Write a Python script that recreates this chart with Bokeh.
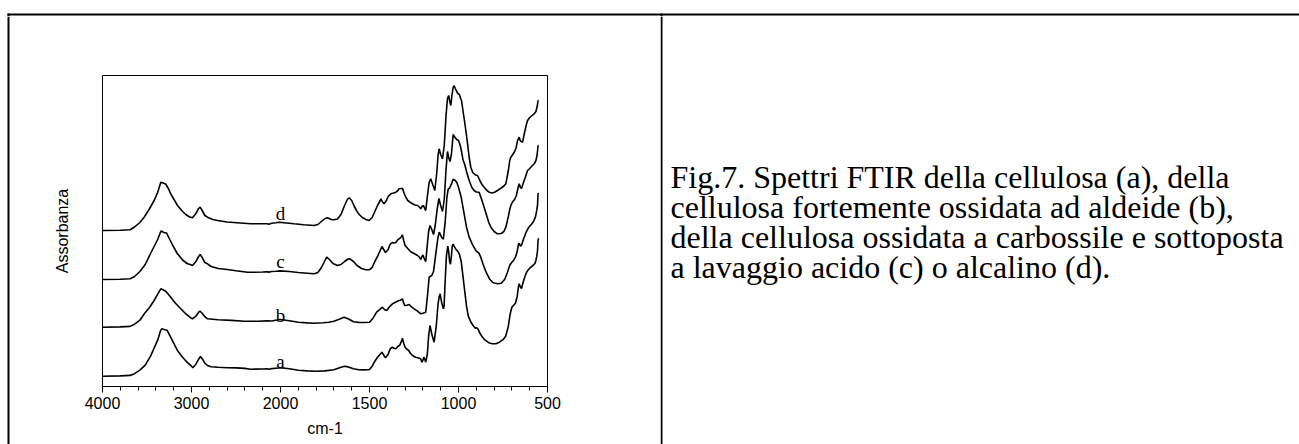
from bokeh.plotting import figure
from bokeh.models import Range1d, FixedTicker
from bokeh.layouts import row, column
from bokeh.embed import file_html
from bokeh.resources import INLINE
from bokeh.core.properties import value

# ---------------- data (wavenumber cm-1, absorbance above own baseline, arb. units) ----------------
spectrum_a = [(4000, 0), (3800, 0.3), (3690, 0.8), (3640, 2.5), (3580, 6), (3520, 11), (3460, 20), (3420, 28),
              (3380, 36), (3350, 45), (3335, 47.4), (3300, 46.5), (3275, 46), (3240, 40), (3200, 33), (3160, 26),
              (3100, 19), (3050, 14), (3000, 10), (2985, 8.5), (2950, 12), (2920, 17), (2900, 19.7), (2880, 17.5),
              (2850, 13), (2820, 10.7), (2780, 9.5), (2700, 9), (2600, 8.5), (2500, 8.3), (2400, 7.8), (2340, 7),
              (2200, 7.2), (2150, 7.5), (2130, 7), (2100, 7.6), (2050, 8), (2000, 8.4), (1950, 7.5), (1900, 6),
              (1850, 5.3), (1800, 5), (1750, 5.3), (1700, 6.5), (1660, 9), (1640, 10), (1620, 9.3), (1590, 7.5),
              (1560, 6.5), (1530, 6.3), (1500, 6.7), (1485, 10), (1470, 15), (1455, 19), (1440, 22), (1430, 24),
              (1420, 21), (1410, 18.5), (1395, 22), (1385, 27), (1372, 29), (1362, 28), (1352, 27.5), (1340, 30),
              (1330, 31), (1320, 35), (1315, 38), (1308, 33), (1300, 29), (1290, 27), (1280, 25.7), (1270, 23),
              (1260, 21), (1250, 19.7), (1240, 19), (1230, 18.5), (1220, 18), (1212, 17), (1205, 14), (1200, 16),
              (1195, 19), (1190, 17), (1184, 14), (1175, 22), (1168, 40), (1160, 50.7), (1150, 42), (1137, 34),
              (1125, 50), (1115, 72), (1108, 80), (1103, 82.4), (1095, 74), (1085, 67.4), (1081, 70), (1075, 95),
              (1068, 120), (1060, 130), (1055, 124), (1050, 115), (1045, 112), (1040, 120), (1035, 130), (1030, 132),
              (1025, 130), (1015, 127), (1005, 125), (995, 122), (985, 115), (975, 100), (965, 85), (955, 70),
              (945, 60), (930, 54), (915, 50), (905, 48), (897, 48.5), (890, 47), (880, 43), (865, 39), (850, 36),
              (830, 33.5), (810, 32.4), (790, 32.5), (770, 34), (750, 36.5), (735, 40), (720, 50), (710, 62),
              (700, 69), (690, 71), (680, 73), (670, 80), (663, 90), (659, 92.4), (652, 89), (646, 87.7), (640, 92),
              (630, 98), (620, 103), (610, 106), (600, 108), (590, 109.5), (580, 111), (570, 113), (565, 116),
              (560, 120), (556, 125.7), (553, 136), (550, 138)]

spectrum_b = [(4000, 0), (3800, 0.3), (3690, 0.8), (3640, 3), (3580, 7), (3530, 13.4), (3470, 20), (3420, 26.7),
              (3380, 33), (3345, 38.4), (3320, 37.5), (3290, 36), (3260, 33), (3233, 30), (3180, 24), (3120, 18.4),
              (3060, 13), (3010, 9.5), (2989, 8.4), (2950, 11), (2920, 15), (2903, 16), (2880, 14), (2850, 10.5),
              (2820, 8.4), (2700, 7.5), (2550, 6.8), (2409, 6), (2250, 6), (2150, 6.3), (2100, 6.2), (2040, 7.2),
              (2000, 7.7), (1950, 6.5), (1900, 5), (1850, 4.3), (1811, 4), (1760, 4.5), (1730, 5), (1700, 6),
              (1670, 8), (1643, 10), (1620, 8.5), (1590, 5.5), (1560, 4.8), (1530, 4.7), (1500, 5), (1480, 9),
              (1460, 15), (1440, 18), (1427, 20), (1415, 17.5), (1403, 16.7), (1390, 20), (1371, 23.3), (1355, 25),
              (1334, 26.7), (1325, 27), (1315, 28.4), (1308, 24), (1302, 21.7), (1290, 22), (1277, 22.7),
              (1265, 20.5), (1249, 18.4), (1230, 16), (1212, 13.4), (1200, 14), (1184, 15), (1175, 30), (1165, 50),
              (1150, 51.7), (1140, 56), (1130, 70), (1115, 90), (1108, 95), (1095, 90), (1085, 88), (1075, 105),
              (1065, 130), (1058, 138), (1050, 139), (1040, 143), (1030, 148), (1020, 147), (1010, 145), (1000, 140),
              (985, 130), (970, 115), (955, 100), (940, 90), (920, 82), (900, 76), (885, 74), (875, 70), (860, 62),
              (845, 55), (825, 48), (805, 44.5), (781, 43.4), (760, 44), (740, 48), (725, 55), (712, 62), (700, 65),
              (690, 67), (680, 70), (670, 76), (663, 83), (659, 84), (652, 81), (646, 82), (635, 88), (620, 95),
              (605, 100), (590, 103), (578, 106), (568, 110), (560, 117), (556, 122), (553, 134), (550, 133)]

spectrum_c = [(4000, 0), (3800, 0.3), (3690, 0.8), (3640, 3), (3580, 8), (3520, 15), (3460, 26), (3420, 33),
              (3380, 40), (3350, 47), (3340, 48.5), (3310, 47), (3280, 46.5), (3250, 41), (3210, 34), (3160, 26),
              (3100, 19.5), (3050, 16), (3000, 14.5), (2989, 14), (2950, 18), (2920, 23), (2903, 25), (2880, 22),
              (2850, 17), (2820, 15.7), (2780, 13), (2700, 11), (2600, 10), (2500, 8.8), (2371, 7.3), (2300, 7.2),
              (2200, 7.5), (2150, 7.8), (2130, 7.4), (2100, 8), (2050, 8.2), (2000, 8.6), (1950, 8), (1900, 7),
              (1850, 6.3), (1811, 5.7), (1790, 7), (1770, 12), (1750, 19), (1740, 22.3), (1725, 20), (1705, 16),
              (1680, 14), (1660, 15), (1640, 18), (1620, 20.5), (1610, 20.7), (1590, 18), (1570, 14), (1545, 11),
              (1520, 9.8), (1502, 9.7), (1485, 12), (1470, 18), (1455, 23), (1440, 29), (1430, 33), (1420, 30),
              (1410, 27), (1395, 30), (1385, 35), (1372, 37), (1362, 36.5), (1352, 37), (1340, 40), (1330, 41),
              (1320, 43), (1315, 44.5), (1308, 39), (1300, 34), (1290, 32), (1280, 30), (1270, 28), (1260, 27),
              (1250, 26), (1240, 25), (1230, 24), (1220, 22.5), (1212, 20), (1205, 23), (1200, 24.5), (1195, 22),
              (1190, 20), (1184, 18), (1175, 35), (1168, 48), (1160, 54), (1150, 50), (1140, 45), (1130, 55),
              (1120, 70), (1110, 81), (1100, 74), (1090, 68), (1080, 80), (1070, 110), (1062, 128), (1055, 122),
              (1048, 118), (1040, 125), (1030, 145), (1020, 142), (1010, 140), (1000, 139), (990, 134), (983, 128),
              (975, 120), (965, 115), (955, 108), (940, 99), (925, 92), (912, 89), (900, 87.5), (884, 87.3),
              (870, 80), (856, 72.3), (840, 63), (830, 57), (818, 52.3), (800, 48), (781, 45.7), (760, 46),
              (745, 48), (734, 52.3), (720, 63), (712, 70), (706, 74), (695, 78), (685, 80), (675, 84), (665, 92),
              (659, 95.7), (652, 92), (646, 91), (635, 97), (625, 102), (612, 109), (600, 111), (590, 113),
              (575, 115.7), (565, 119), (558, 125), (553, 134), (550, 134)]

spectrum_d = [(4000, 0), (3800, 0.3), (3690, 0.8), (3640, 3.5), (3580, 8), (3532, 13.3), (3470, 22), (3420, 30),
              (3380, 38), (3345, 48.3), (3320, 47.5), (3290, 46.5), (3260, 42), (3233, 36.7), (3190, 30),
              (3157, 25), (3100, 19), (3064, 16), (3020, 13.5), (2989, 12.7), (2950, 17), (2920, 22), (2903, 23.3),
              (2880, 20), (2850, 15), (2820, 13.3), (2760, 11), (2708, 10), (2600, 8.5), (2450, 7.5), (2334, 6.7),
              (2200, 6.7), (2146, 6.7), (2130, 6.2), (2100, 7.2), (2050, 7.8), (2016, 8.3), (1980, 7.8),
              (1924, 6.7), (1870, 5.8), (1811, 5), (1790, 6), (1770, 9), (1750, 12), (1736, 12.7), (1715, 11),
              (1700, 10.7), (1680, 11.5), (1660, 16), (1640, 25), (1625, 31), (1614, 32.7), (1600, 30), (1585, 24),
              (1570, 19), (1558, 16), (1540, 13), (1520, 11), (1502, 10), (1485, 13), (1470, 19), (1455, 25),
              (1440, 30), (1436, 31.7), (1425, 28), (1418, 26.7), (1405, 30), (1395, 34), (1380, 36.7),
              (1365, 37.5), (1352, 38.3), (1340, 40), (1334, 41.7), (1322, 42), (1315, 42.3), (1305, 37),
              (1296, 33.3), (1285, 30), (1270, 28), (1258, 26.7), (1245, 25.5), (1230, 25), (1220, 23.5),
              (1212, 21.7), (1205, 24), (1197, 25), (1190, 22), (1184, 20), (1175, 34), (1165, 48), (1156, 51.7),
              (1145, 46), (1133, 40), (1122, 58), (1115, 75), (1109, 81.7), (1100, 76), (1090, 71.7), (1080, 85),
              (1070, 115), (1062, 132), (1055, 135), (1048, 128), (1043, 125), (1037, 135), (1030, 143),
              (1025, 145), (1018, 142), (1010, 139), (1002, 136.7), (995, 136), (988, 132), (983, 130), (975, 120),
              (965, 108), (955, 95), (949, 86.7), (940, 73), (931, 63.3), (920, 58), (905, 55.5), (893, 55),
              (880, 50), (868, 46), (856, 43.3), (840, 40), (828, 38.3), (810, 37.5), (795, 38.5), (781, 40),
              (760, 42.5), (745, 44.5), (734, 46.7), (720, 60), (712, 70), (706, 73.3), (695, 76), (685, 79),
              (678, 81.7), (668, 90), (659, 93.3), (652, 89.5), (640, 88.3), (630, 97), (620, 105), (612, 110),
              (600, 113), (590, 114.5), (575, 116.7), (565, 119), (558, 124), (553, 130), (550, 130)]

series_names = ["a", "b", "c", "d"]
baseline_offsets = [10.3, 59.3, 107, 156]          # vertical stacking offset of each spectrum
label_wavenumber = 2000
label_heights = [25, 71.5, 125, 173]

tick_wavenumbers = [4000, 3000, 2000, 1500, 1000, 500]
minor_wavenumbers = list(range(4000, 2000, -200)) + list(range(2000, 499, -100))

caption_lines = [
    "Fig.7. Spettri FTIR della cellulosa (a), della",
    "cellulosa fortemente ossidata ad aldeide (b),",
    "della cellulosa ossidata a carbossile e sottoposta",
    "a lavaggio acido (c) o alcalino (d).",
]


# x axis is expanded 2x below 2000 cm-1 (as in the instrument plot)
def to_axis(w):
    if w >= 2000:
        return (4000 - w) / 1000.0
    return 2.0 + (2000 - w) / 500.0


SANS = "Liberation Sans"
SERIF = "Liberation Serif"


def blank(width, height):
    f = figure(width=width, height=height, x_range=Range1d(0, width), y_range=Range1d(height, 0),
               x_axis_type=None, y_axis_type=None, toolbar_location=None, output_backend="svg",
               min_border=0, outline_line_color=None, frame_align=False)
    return f


# ---------------- top border strip ----------------
top = blank(1299, 16)
top.segment(x0=[7], y0=[14], x1=[1299], y1=[14], line_width=2, color="black")
top.segment(x0=[8, 661], y0=[13, 13], x1=[8, 661], y1=[16, 16], line_width=2, color="black")

# ---------------- left border strip ----------------
left = blank(10, 428)
left.segment(x0=[8], y0=[0], x1=[8], y1=[428], line_width=2, color="black")

# ---------------- main spectra plot ----------------
p = figure(width=650, height=428, x_range=Range1d(0, 5), y_range=Range1d(0, 311),
           toolbar_location=None, output_backend="svg", frame_align=False,
           min_border_left=92, min_border_right=113, min_border_top=59, min_border_bottom=58)
p.grid.visible = False
p.outline_line_color = "black"
p.outline_line_width = 1

for spec, off in zip([spectrum_a, spectrum_b, spectrum_c, spectrum_d], baseline_offsets):
    xs = [to_axis(w) for w, _ in spec]
    ys = [h + off for _, h in spec]
    p.line(xs, ys, line_color="black", line_width=1.6)

p.text(x=[to_axis(label_wavenumber)] * 4, y=label_heights, text=series_names,
       text_font=value(SERIF), text_font_size="19px", text_align="center",
       text_baseline="alphabetic", text_color="black")

xt = [to_axis(w) for w in tick_wavenumbers]
p.xaxis.ticker = FixedTicker(ticks=xt, minor_ticks=[to_axis(w) for w in minor_wavenumbers])
p.xaxis.major_label_overrides = {t: str(w) for t, w in zip(xt, tick_wavenumbers)}
p.xaxis.major_label_text_font = SANS
p.xaxis.major_label_text_font_size = "16px"
p.xaxis.major_label_text_color = "black"
p.xaxis.major_label_standoff = 4
p.xaxis.major_tick_out = 6
p.xaxis.major_tick_in = 0
p.xaxis.minor_tick_out = 4
p.xaxis.minor_tick_in = 0
p.xaxis.axis_line_color = "black"
p.xaxis.major_tick_line_color = "black"
p.xaxis.minor_tick_line_color = "black"
p.xaxis.axis_label = "cm-1"
p.xaxis.axis_label_text_font = SANS
p.xaxis.axis_label_text_font_style = "normal"
p.xaxis.axis_label_text_font_size = "16px"
p.xaxis.axis_label_text_color = "black"
p.xaxis.axis_label_standoff = 8

p.yaxis.ticker = FixedTicker(ticks=[])
p.yaxis.major_tick_out = 0
p.yaxis.minor_tick_out = 0
p.yaxis.major_tick_in = 0
p.yaxis.minor_tick_in = 0
p.yaxis.major_label_standoff = 0
p.yaxis.axis_line_color = None
p.yaxis.axis_label = "Assorbanza"
p.yaxis.axis_label_text_font = SANS
p.yaxis.axis_label_text_font_style = "normal"
p.yaxis.axis_label_text_font_size = "16px"
p.yaxis.axis_label_text_color = "black"
p.yaxis.axis_label_standoff = 32

# ---------------- caption panel ----------------
cap = blank(639, 428)
cap.segment(x0=[1], y0=[0], x1=[1], y1=[428], line_width=2, color="black")
cap.text(x=[10] * len(caption_lines), y=[160 + 30 * i for i in range(len(caption_lines))],
         text=caption_lines, text_font=value(SERIF), text_font_size="32px",
         text_align="left", text_baseline="alphabetic", text_color="black")

layout = column(top, row(left, p, cap))

open("out.html", "w").write(file_html(layout, INLINE))
